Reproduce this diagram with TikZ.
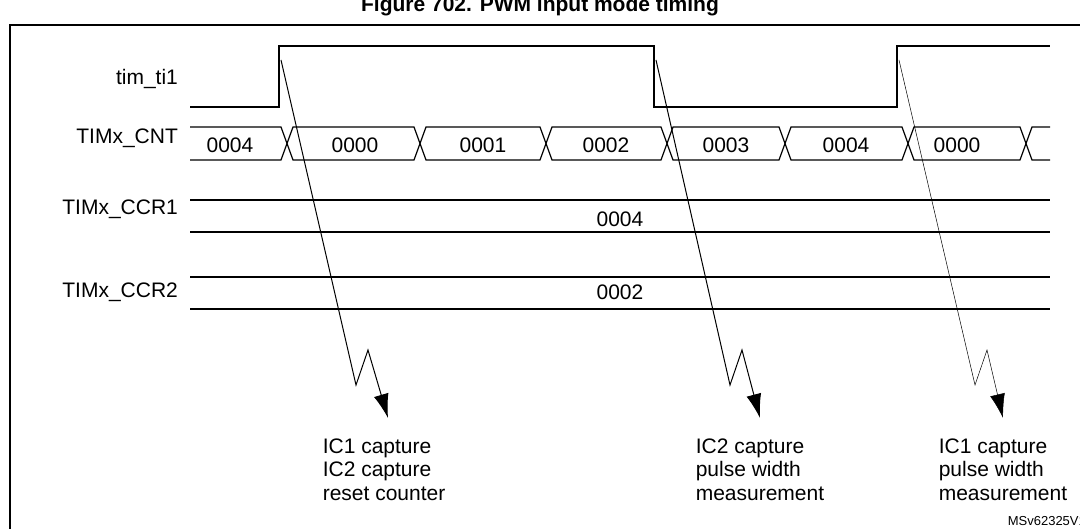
\documentclass[tikz,border=0pt]{standalone}
\usepackage{fontspec}
\setmainfont{Liberation Sans}
\usetikzlibrary{arrows.meta}
\begin{document}
\begin{tikzpicture}[x=1pt,y=-1pt,line width=1.6pt,font=\fontsize{21}{24}\selectfont]
	\useasboundingbox (0,0) rectangle (1080,529);
	\tikzset{lbl/.style={anchor=east},val/.style={anchor=center},
		hit/.style={-{Latex[length=24,width=15]},line width=1pt,line join=miter},
		note/.style={anchor=north west,align=left,inner sep=0pt,font=\fontsize{21}{23.5}\selectfont}}
	% title and frame
	\node[font=\bfseries\fontsize{21}{24}\selectfont] (title) at (540,6) {Figure 702. PWM input mode timing};
	\draw[line width=2pt] (10,540) -- (10,25) -- (1090,25);
	% signal names
	\node[lbl] (nti) at (182,79) {tim\_ti1};
	\node[lbl] (ncnt) at (182,138) {TIMx\_CNT};
	\node[lbl] (nccr1) at (182,209) {TIMx\_CCR1};
	\node[lbl] (nccr2) at (182,292) {TIMx\_CCR2};
	% tim_ti1 waveform
	\draw (190,107) -- (279,107) -- (279,46) -- (654,46) -- (654,107) -- (897,107) -- (897,46) -- (1050,46);
	\coordinate (E1) at (281,60);
	\coordinate (E2) at (656,60);
	\coordinate (E3) at (899,60);
	% counter bus
	\draw[line width=1.2pt] (190,127) -- (281,127) -- (293,160) -- (414,160) -- (426,127) -- (540,127) -- (552,160) -- (661,160) -- (673,127) -- (779,127) -- (791,160) -- (902,160) -- (914,127) -- (1020,127) -- (1032,160) -- (1050,160);
	\draw[line width=1.2pt] (190,160) -- (281,160) -- (293,127) -- (414,127) -- (426,160) -- (540,160) -- (552,127) -- (661,127) -- (673,160) -- (779,160) -- (791,127) -- (902,127) -- (914,160) -- (1020,160) -- (1032,127) -- (1050,127);
	\foreach \x/\v in {230/0004,355/0000,483/0001,606/0002,726/0003,846/0004,957/0000}
		\node[val] at (\x,145) {\v};
	% capture registers
	\draw[line width=1.2pt] (190,200) -- (1050,200) (190,232) -- (1050,232);
	\node[val] (vccr1) at (620,219) {0004};
	\draw[line width=1.2pt] (190,277) -- (1050,277) (190,309) -- (1050,309);
	\node[val] (vccr2) at (620,292) {0002};
	% capture events
	\draw[hit] (E1) -- (356,385) -- (368,350) -- (388,418);
	\draw[hit] (E2) -- (730,385) -- (742,350) -- (760,418);
	\draw[hit,line width=.5pt] (E3) -- (975,385) -- (987,350) -- (1003,418);
	\node[note] (n1) at (322,438) {IC1 capture\\IC2 capture\\reset counter};
	\node[note] (n2) at (695,438) {IC2 capture\\pulse width\\measurement};
	\node[note] (n3) at (938,438) {IC1 capture\\pulse width\\measurement};
	\node[anchor=east,font=\fontsize{13}{14}\selectfont] (ref) at (1090,521) {MSv62325V1};
\end{tikzpicture}
\end{document}
